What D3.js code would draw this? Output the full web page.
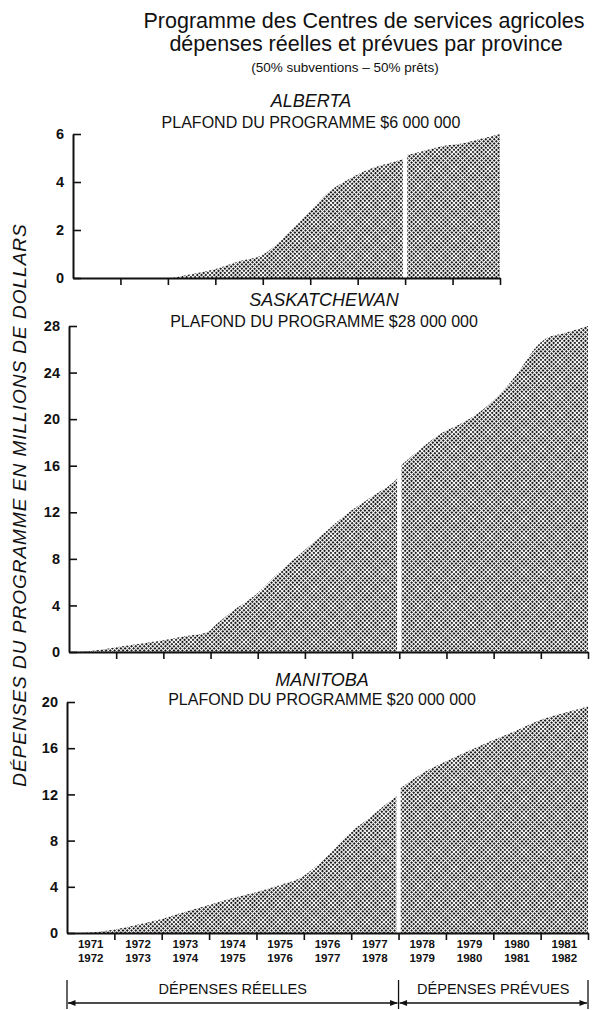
<!DOCTYPE html>
<html>
<head>
<meta charset="utf-8">
<script src="https://cdn.jsdelivr.net/npm/d3@7"></script>
<style>
  html, body { margin: 0; padding: 0; background: #fff; }
  svg { display: block; }
  text { font-family: "Liberation Sans", Arial, Helvetica, sans-serif; fill: #111; }
</style>
</head>
<body>
<svg id="chart" width="604" height="1010"></svg>
<script>
// ---------- DATA ----------
const titleLines = ["Programme des Centres de services agricoles", "dépenses réelles et prévues par province"];
const subTitle = "(50% subventions \u2013 50% prêts)";
const yAxisTitle = "DÉPENSES DU PROGRAMME EN MILLIONS DE DOLLARS";

const yearTop = ["1971","1972","1973","1974","1975","1976","1977","1978","1979","1980","1981"];
const yearBottom = ["1972","1973","1974","1975","1976","1977","1978","1979","1980","1981","1982"];
const splitYear = 1978; // fin des dépenses réelles

const provinceNames = ["ALBERTA", "SASKATCHEWAN", "MANITOBA"];
const ceilings = ["PLAFOND DU PROGRAMME $6 000 000", "PLAFOND DU PROGRAMME $28 000 000", "PLAFOND DU PROGRAMME $20 000 000"];
const yMaxes = [6, 28, 20];
const yTicks = [[0, 2, 4, 6], [0, 4, 8, 12, 16, 20, 24, 28], [0, 4, 8, 12, 16, 20]];
const endYears = [1980, 1982, 1982];

// Alberta (cumulative, millions $)
const albertaActualT = [1971, 1973, 1973.5, 1974, 1974.5, 1975, 1975.2, 1975.5, 1976, 1976.4, 1976.8, 1977.2, 1977.6, 1978];
const albertaActualV = [0, 0, 0.17, 0.38, 0.7, 0.97, 1.25, 1.8, 2.8, 3.6, 4.1, 4.5, 4.75, 4.97];
const albertaProjT = [1978, 1978.4, 1978.8, 1979.2, 1979.6, 1980];
const albertaProjV = [5.1, 5.3, 5.5, 5.6, 5.8, 6.0];

// Saskatchewan
const saskActualT = [1971, 1971.5, 1972, 1972.5, 1973, 1973.45, 1973.94, 1974.1, 1974.43, 1974.98, 1975.49, 1975.98, 1976.46, 1976.97, 1977.44, 1977.93, 1978];
const saskActualV = [0, 0.1, 0.4, 0.7, 1.0, 1.35, 1.7, 2.3, 3.4, 5.0, 7.0, 8.7, 10.4, 12.1, 13.4, 14.8, 15.1];
const saskProjT = [1978, 1978.5, 1978.9, 1979.3, 1979.7, 1980.1, 1980.5, 1980.9, 1981.1, 1981.5, 1982];
const saskProjV = [15.9, 17.6, 18.8, 19.6, 20.6, 22.0, 23.9, 26.2, 26.9, 27.4, 28.0];

// Manitoba
const manActualT = [1971, 1971.5, 1972, 1972.46, 1972.98, 1973.5, 1973.98, 1974.48, 1974.97, 1975.45, 1975.96, 1976.43, 1976.95, 1977.4, 1977.72, 1978];
const manActualV = [0, 0.05, 0.3, 0.7, 1.2, 1.85, 2.4, 3.0, 3.5, 4.1, 4.85, 6.4, 8.6, 10.0, 11.1, 12.0];
const manProjT = [1978, 1978.2, 1978.53, 1979.02, 1979.5, 1980, 1980.47, 1980.96, 1981.45, 1982];
const manProjV = [12.4, 13.0, 13.9, 14.9, 15.8, 16.7, 17.5, 18.4, 19.0, 19.6];

const actualT = [albertaActualT, saskActualT, manActualT];
const actualV = [albertaActualV, saskActualV, manActualV];
const projT = [albertaProjT, saskProjT, manProjT];
const projV = [albertaProjV, saskProjV, manProjV];

const bottomLabels = ["DÉPENSES RÉELLES", "DÉPENSES PRÉVUES"];

// ---------- LAYOUT ----------
const panels = [
  { x0: 73, x1: 500, yTop: 134, yBot: 278, nameY: 107, ceilY: 128, cx: 311 },
  { x0: 69, x1: 588, yTop: 326, yBot: 652, nameY: 306, ceilY: 327, cx: 324 },
  { x0: 67, x1: 588, yTop: 702, yBot: 933, nameY: 686, ceilY: 705, cx: 322 }
];

const svg = d3.select("#chart");
const defs = svg.append("defs");
const pat = defs.append("pattern")
  .attr("id", "dots").attr("patternUnits", "userSpaceOnUse")
  .attr("width", 3).attr("height", 3)
  .attr("patternTransform", "rotate(45)");
pat.append("rect").attr("width", 3).attr("height", 3).attr("fill", "#fff");
pat.append("rect").attr("width", 1.95).attr("height", 1.95).attr("fill", "#111");

// Titles
svg.append("text").attr("x", 364).attr("y", 28).attr("text-anchor", "middle")
  .style("font-size", "21.5px").text(titleLines[0]);
svg.append("text").attr("x", 366).attr("y", 51).attr("text-anchor", "middle")
  .style("font-size", "21.5px").text(titleLines[1]);
svg.append("text").attr("x", 345).attr("y", 72).attr("text-anchor", "middle")
  .style("font-size", "13.5px").text(subTitle);

// Y axis title
svg.append("text")
  .attr("transform", "translate(26,505) rotate(-90)")
  .attr("text-anchor", "middle")
  .style("font-size", "19px").style("font-style", "italic").style("letter-spacing", "1px")
  .text(yAxisTitle);

let xMain;
panels.forEach((p, i) => {
  const x = d3.scaleLinear().domain([1971, endYears[i]]).range([p.x0, p.x1]);
  const y = d3.scaleLinear().domain([0, yMaxes[i]]).range([p.yBot, p.yTop]);
  if (i === 2) xMain = x;
  const g = svg.append("g");

  const area = d3.area().x(d => x(d[0])).y0(y(0)).y1(d => y(d[1])).curve(d3.curveMonotoneX);
  const a = actualT[i].map((t, k) => [t, actualV[i][k]]);
  const b = projT[i].map((t, k) => [t, projV[i][k]]);
  g.append("path").attr("d", area(a)).attr("fill", "url(#dots)");
  g.append("path").attr("d", area(b)).attr("fill", "url(#dots)");
  // white separation between actual and planned
  g.append("rect").attr("x", x(splitYear) - 2.2).attr("width", 4.4)
    .attr("y", p.yTop - 5).attr("height", p.yBot - p.yTop + 5).attr("fill", "#fff");

  // titles
  g.append("text").attr("x", p.cx).attr("y", p.nameY).attr("text-anchor", "middle")
    .style("font-size", "18px").style("font-style", "italic").text(provinceNames[i]);
  g.append("text").attr("x", p.cx).attr("y", p.ceilY).attr("text-anchor", "middle")
    .style("font-size", "16px").text(ceilings[i]);

  // y axis
  const ya = g.append("g").attr("transform", `translate(${p.x0},0)`)
    .call(d3.axisLeft(y).tickValues(yTicks[i]).tickSizeInner(-8).tickSizeOuter(0).tickPadding(9).tickFormat(d3.format("d")));
  ya.select(".domain").attr("stroke", "#111").attr("stroke-width", 2);
  ya.selectAll(".tick line").attr("stroke", "#111").attr("stroke-width", 1.6);
  ya.selectAll(".tick text").style("font-size", "14.5px").style("font-weight", "bold").attr("fill", "#111")
    .style("font-family", "\"Liberation Sans\", Arial, sans-serif");

  // x axis
  const xt = d3.range(1972, endYears[i] + 1);
  const xa = g.append("g").attr("transform", `translate(0,${p.yBot})`)
    .call(d3.axisBottom(x).tickValues(xt).tickSizeInner(7).tickSizeOuter(0).tickFormat(""));
  xa.select(".domain").attr("stroke", "#111").attr("stroke-width", 2);
  xa.selectAll(".tick line").attr("stroke", "#111").attr("stroke-width", 1.6);
});

// Year labels under Manitoba
const centers = yearTop.map((d, k) => 1971.5 + k);
const yl = svg.append("g").style("font-size", "11.5px").style("font-weight", "bold");
yl.selectAll("text.t1").data(centers).join("text").attr("class", "t1")
  .attr("x", d => xMain(d)).attr("y", 948).attr("text-anchor", "middle").text((d, k) => yearTop[k]);
yl.selectAll("text.t2").data(centers).join("text").attr("class", "t2")
  .attr("x", d => xMain(d)).attr("y", 962).attr("text-anchor", "middle").text((d, k) => yearBottom[k]);

// Bottom brackets
defs.append("marker").attr("id", "arr").attr("viewBox", "0 0 10 10").attr("refX", 10).attr("refY", 5)
  .attr("markerWidth", 6).attr("markerHeight", 5).attr("orient", "auto-start-reverse")
  .append("path").attr("d", "M0,1 L10,5 L0,9 Z").attr("fill", "#111");
const bx = [1971, splitYear, 1982];
const bg = svg.append("g");
bx.forEach(t => {
  bg.append("line").attr("x1", xMain(t)).attr("x2", xMain(t)).attr("y1", 980).attr("y2", 1009)
    .attr("stroke", "#111").attr("stroke-width", 1.3);
});
[[1971, splitYear], [splitYear, 1982]].forEach(([s, e], k) => {
  bg.append("line").attr("x1", xMain(s) + 1).attr("x2", xMain(e) - 1).attr("y1", 1003).attr("y2", 1003)
    .attr("stroke", "#111").attr("stroke-width", 1.5)
    .attr("marker-start", "url(#arr)").attr("marker-end", "url(#arr)");
  bg.append("text").attr("x", xMain((s + e) / 2)).attr("y", 994).attr("text-anchor", "middle")
    .style("font-size", "14.5px").text(bottomLabels[k]);
});
</script>
</body>
</html>
